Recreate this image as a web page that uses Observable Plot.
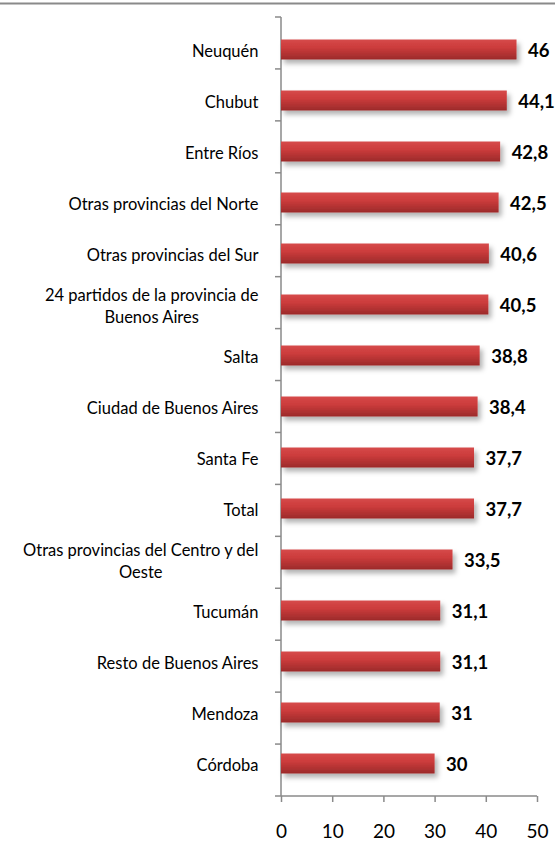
<!DOCTYPE html>
<html>
<head>
<meta charset="utf-8">
<script src="https://cdn.jsdelivr.net/npm/d3@7"></script>
<script src="https://cdn.jsdelivr.net/npm/@observablehq/plot@0.6"></script>
<style>
  html, body { margin: 0; padding: 0; background: #fff; }
  #chart { width: 555px; height: 843px; }
</style>
</head>
<body>
<div id="chart"></div>
<script>
const categories = [
  "Neuquén",
  "Chubut",
  "Entre Ríos",
  "Otras provincias del Norte",
  "Otras provincias del Sur",
  "24 partidos de la provincia de\nBuenos Aires",
  "Salta",
  "Ciudad de Buenos Aires",
  "Santa Fe",
  "Total",
  "Otras provincias del Centro y del\nOeste",
  "Tucumán",
  "Resto de Buenos Aires",
  "Mendoza",
  "Córdoba"
];
const values = [46, 44.1, 42.8, 42.5, 40.6, 40.5, 38.8, 38.4, 37.7, 37.7, 33.5, 31.1, 31.1, 31, 30];
const xTicks = [0, 10, 20, 30, 40, 50];

const data = categories.map((c, i) => ({cat: c, value: values[i], label: String(values[i]).replace(".", ",")}));

function decor(index, scales, channels, dimensions) {
  const {width, height, marginTop, marginBottom} = dimensions;
  const g = d3.create("svg:g");
  const defs = g.append("defs");
  const grad = defs.append("linearGradient").attr("id", "barGrad").attr("x1", 0).attr("y1", 0).attr("x2", 0).attr("y2", 1);
  grad.append("stop").attr("offset", "0%").attr("stop-color", "#d64a4a");
  grad.append("stop").attr("offset", "40%").attr("stop-color", "#cc3c3c");
  grad.append("stop").attr("offset", "100%").attr("stop-color", "#9b2a2a");
  const f = defs.append("filter").attr("id", "barShadow").attr("x", "-10%").attr("y", "-30%").attr("width", "130%").attr("height", "200%");
  f.append("feDropShadow").attr("dx", 3).attr("dy", 4).attr("stdDeviation", 2.5).attr("flood-color", "#000").attr("flood-opacity", 0.3);
  g.append("line").attr("x1", 0).attr("x2", width).attr("y1", 3.5).attr("y2", 3.5).attr("stroke", "#8a8a8a").attr("stroke-width", 2);
  const x0 = scales.x(0);
  const yTop = marginTop, yBot = height - marginBottom;
  g.append("line").attr("x1", x0).attr("x2", x0).attr("y1", yTop).attr("y2", yBot).attr("stroke", "#8a8a8a").attr("stroke-width", 1.5);
  g.append("line").attr("x1", x0).attr("x2", scales.x(50)).attr("y1", yBot).attr("y2", yBot).attr("stroke", "#8a8a8a").attr("stroke-width", 1.5);
  const step = (yBot - yTop) / categories.length;
  for (let i = 0; i <= categories.length; i++) {
    const y = yTop + i * step;
    g.append("line").attr("x1", x0 - 6).attr("x2", x0).attr("y1", y).attr("y2", y).attr("stroke", "#8a8a8a").attr("stroke-width", 1.5);
  }
  return g.node();
}

const plot = Plot.plot({
  width: 555,
  height: 843,
  marginLeft: 281,
  marginRight: 18,
  marginTop: 17,
  marginBottom: 47,
  style: {fontFamily: "Lato, 'Open Sans', sans-serif", background: "white", overflow: "visible", color: "#000"},
  x: {domain: [0, 50], axis: null, label: null},
  y: {domain: categories, padding: 0, axis: null, label: null},
  marks: [
    decor,
    Plot.barX(data, {x: "value", y: "cat", fill: "url(#barGrad)", insetTop: 15.5, insetBottom: 15.5}),
    Plot.text(data, {x: "value", y: "cat", text: "label", dx: 11, dy: 1, textAnchor: "start", fontWeight: "bold", fontSize: 18.5, fill: "#000"}),
    Plot.text(categories, {y: d => d, text: d => d, frameAnchor: "left", dx: -23, textAnchor: "end", fontSize: 16.5, lineHeight: 1.3, fill: "#000"}),
    Plot.axisX({ticks: xTicks, tickSize: 6, tickPadding: 22, fontSize: 19, anchor: "bottom", label: null, tickFormat: d => String(d), stroke: "#8a8a8a", fill: "#000", strokeWidth: 1.5})
  ]
});

document.getElementById("chart").appendChild(plot);

plot.querySelectorAll('g[aria-label="bar"]').forEach(g => g.setAttribute("filter", "url(#barShadow)"));

plot.querySelectorAll("text").forEach(t => {
  const spans = t.querySelectorAll("tspan");
  if (spans.length >= 2) {
    const w = t.getBBox().width;
    t.setAttribute("text-anchor", "middle");
    const tr = t.getAttribute("transform") || "";
    t.setAttribute("transform", (tr + ` translate(${-w / 2},0)`).trim());
  }
});
</script>
</body>
</html>
